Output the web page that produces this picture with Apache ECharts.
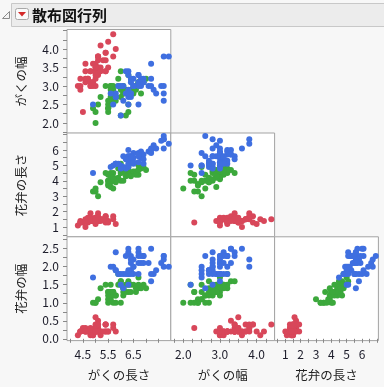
<!DOCTYPE html>
<html><head><meta charset="utf-8">
<style>html,body{margin:0;padding:0;background:#f7f7f7;}#c{width:384px;height:387px;}</style>
<script src="https://cdn.jsdelivr.net/npm/echarts@6/dist/echarts.min.js"></script>
</head><body><div id="c"></div>
<script>
// Variable names (columns of the matrix)
const varNames = ['がくの長さ', 'がくの幅', '花弁の長さ', '花弁の幅'];
const speciesNames = ['setosa', 'versicolor', 'virginica'];
const speciesColors = ['#d8475a', '#3ca83c', '#3f6fe0'];

const setosaSepalLength = [5.1,4.9,4.7,4.6,5.0,5.4,4.6,5.0,4.4,4.9,5.4,4.8,4.8,4.3,5.8,5.7,5.4,5.1,5.7,5.1,5.4,5.1,4.6,5.1,4.8,5.0,5.0,5.2,5.2,4.7,4.8,5.4,5.2,5.5,4.9,5.0,5.5,4.9,4.4,5.1,5.0,4.5,4.4,5.0,5.1,4.8,5.1,4.6,5.3,5.0];
const setosaSepalWidth = [3.5,3.0,3.2,3.1,3.6,3.9,3.4,3.4,2.9,3.1,3.7,3.4,3.0,3.0,4.0,4.4,3.9,3.5,3.8,3.8,3.4,3.7,3.6,3.3,3.4,3.0,3.4,3.5,3.4,3.2,3.1,3.4,4.1,4.2,3.1,3.2,3.5,3.6,3.0,3.4,3.5,2.3,3.2,3.5,3.8,3.0,3.8,3.2,3.7,3.3];
const setosaPetalLength = [1.4,1.4,1.3,1.5,1.4,1.7,1.4,1.5,1.4,1.5,1.5,1.6,1.4,1.1,1.2,1.5,1.3,1.4,1.7,1.5,1.7,1.5,1.0,1.7,1.9,1.6,1.6,1.5,1.4,1.6,1.6,1.5,1.5,1.4,1.5,1.2,1.3,1.4,1.3,1.5,1.3,1.3,1.3,1.6,1.9,1.4,1.6,1.4,1.5,1.4];
const setosaPetalWidth = [0.2,0.2,0.2,0.2,0.2,0.4,0.3,0.2,0.2,0.1,0.2,0.2,0.1,0.1,0.2,0.4,0.4,0.3,0.3,0.3,0.2,0.4,0.2,0.5,0.2,0.2,0.4,0.2,0.2,0.2,0.2,0.4,0.1,0.2,0.2,0.2,0.2,0.1,0.2,0.2,0.3,0.3,0.2,0.6,0.4,0.3,0.2,0.2,0.2,0.2];

const versicolorSepalLength = [7.0,6.4,6.9,5.5,6.5,5.7,6.3,4.9,6.6,5.2,5.0,5.9,6.0,6.1,5.6,6.7,5.6,5.8,6.2,5.6,5.9,6.1,6.3,6.1,6.4,6.6,6.8,6.7,6.0,5.7,5.5,5.5,5.8,6.0,5.4,6.0,6.7,6.3,5.6,5.5,5.5,6.1,5.8,5.0,5.6,5.7,5.7,6.2,5.1,5.7];
const versicolorSepalWidth = [3.2,3.2,3.1,2.3,2.8,2.8,3.3,2.4,2.9,2.7,2.0,3.0,2.2,2.9,2.9,3.1,3.0,2.7,2.2,2.5,3.2,2.8,2.5,2.8,2.9,3.0,2.8,3.0,2.9,2.6,2.4,2.4,2.7,2.7,3.0,3.4,3.1,2.3,3.0,2.5,2.6,3.0,2.6,2.3,2.7,3.0,2.9,2.9,2.5,2.8];
const versicolorPetalLength = [4.7,4.5,4.9,4.0,4.6,4.5,4.7,3.3,4.6,3.9,3.5,4.2,4.0,4.7,3.6,4.4,4.5,4.1,4.5,3.9,4.8,4.0,4.9,4.7,4.3,4.4,4.8,5.0,4.5,3.5,3.8,3.7,3.9,5.1,4.5,4.5,4.7,4.4,4.1,4.0,4.4,4.6,4.0,3.3,4.2,4.2,4.2,4.3,3.0,4.1];
const versicolorPetalWidth = [1.4,1.5,1.5,1.3,1.5,1.3,1.6,1.0,1.3,1.4,1.0,1.5,1.0,1.4,1.3,1.4,1.5,1.0,1.5,1.1,1.8,1.3,1.5,1.2,1.3,1.4,1.4,1.7,1.5,1.0,1.1,1.0,1.2,1.6,1.5,1.6,1.5,1.3,1.3,1.3,1.2,1.4,1.2,1.0,1.3,1.2,1.3,1.3,1.1,1.3];

const virginicaSepalLength = [6.3,5.8,7.1,6.3,6.5,7.6,4.9,7.3,6.7,7.2,6.5,6.4,6.8,5.7,5.8,6.4,6.5,7.7,7.7,6.0,6.9,5.6,7.7,6.3,6.7,7.2,6.2,6.1,6.4,7.2,7.4,7.9,6.4,6.3,6.1,7.7,6.3,6.4,6.0,6.9,6.7,6.9,5.8,6.8,6.7,6.7,6.3,6.5,6.2,5.9];
const virginicaSepalWidth = [3.3,2.7,3.0,2.9,3.0,3.0,2.5,2.9,2.5,3.6,3.2,2.7,3.0,2.5,2.8,3.2,3.0,3.8,2.6,2.2,3.2,2.8,2.8,2.7,3.3,3.2,2.8,3.0,2.8,3.0,2.8,3.8,2.8,2.8,2.6,3.0,3.4,3.1,3.0,3.1,3.1,3.1,2.7,3.2,3.3,3.0,2.5,3.0,3.4,3.0];
const virginicaPetalLength = [6.0,5.1,5.9,5.6,5.8,6.6,4.5,6.3,5.8,6.1,5.1,5.3,5.5,5.0,5.1,5.3,5.5,6.7,6.9,5.0,5.7,4.9,6.7,4.9,5.7,6.0,4.8,4.9,5.6,5.8,6.1,6.4,5.6,5.1,5.6,6.1,5.6,5.5,4.8,5.4,5.6,5.1,5.1,5.9,5.7,5.2,5.0,5.2,5.4,5.1];
const virginicaPetalWidth = [2.5,1.9,2.1,1.8,2.2,2.1,1.7,1.8,1.8,2.5,2.0,1.9,2.1,2.0,2.4,2.3,1.8,2.2,2.3,1.5,2.3,2.0,2.0,1.8,2.1,1.8,1.8,1.8,2.1,1.6,1.9,2.0,2.2,1.5,1.4,2.3,2.4,1.8,1.8,2.1,2.4,2.3,1.9,2.3,2.5,2.3,1.9,2.0,2.3,1.8];

// Tick values (all ticks) and labelled ticks for each variable
const sepalLengthTicks = [4.0,4.5,5.0,5.5,6.0,6.5,7.0,7.5];
const sepalLengthLabels = [4.5,5.5,6.5];
const sepalWidthTicks = [1.75,2.0,2.25,2.5,2.75,3.0,3.25,3.5,3.75,4.0,4.25];
const sepalWidthXLabels = [2.0,3.0,4.0];
const sepalWidthYTicks = [1.75,2.0,2.25,2.5,2.75,3.0,3.25,3.5,3.75,4.0,4.25,4.5];
const sepalWidthYLabels = [2.0,2.5,3.0,3.5,4.0];
const petalLengthTicks = [0.5,1,1.5,2,2.5,3,3.5,4,4.5,5,5.5,6,6.5,7];
const petalLengthLabels = [1,2,3,4,5,6];
const petalWidthTicks = [0,0.25,0.5,0.75,1,1.25,1.5,1.75,2,2.25,2.5,2.75];
const petalWidthLabels = [0.0,0.5,1.0,1.5,2.0,2.5];

const bySpecies = [
  [setosaSepalLength, setosaSepalWidth, setosaPetalLength, setosaPetalWidth],
  [versicolorSepalLength, versicolorSepalWidth, versicolorPetalLength, versicolorPetalWidth],
  [virginicaSepalLength, virginicaSepalWidth, virginicaPetalLength, virginicaPetalWidth]
];

// Layout
const colLeft = [67, 170.8, 274.6];
const rowTop = [29.5, 133, 236.8];
const cellW = 103.8, cellH = 103.8;

// axis configs per column (x) and per row (y)
const colAxes = [
  {min: 3.87, max: 7.98, ticks: sepalLengthTicks, labels: sepalLengthLabels, dec: 1},
  {min: 1.66, max: 4.49, ticks: sepalWidthTicks, labels: sepalWidthXLabels, dec: 1},
  {min: 0.3, max: 7.07, ticks: petalLengthTicks, labels: petalLengthLabels, dec: 0}
];
const rowAxes = [
  {min: 1.72, max: 4.53, ticks: sepalWidthYTicks, labels: sepalWidthYLabels, dec: 1},
  {min: 0.37, max: 7.1, ticks: petalLengthTicks, labels: petalLengthLabels, dec: 0},
  {min: -0.05, max: 2.83, ticks: petalWidthTicks, labels: petalWidthLabels, dec: 1}
];

const FONT = "'Noto Sans CJK JP', 'Noto Sans', sans-serif";
const grids = [], xAxes = [], yAxes = [], series = [];
let k = 0;
for (let r = 0; r < 3; r++) {
  for (let c = 0; c <= r; c++) {
    grids.push({left: colLeft[c], top: rowTop[r], width: cellW, height: cellH,
      show: true, backgroundColor: '#ffffff', borderColor: '#a3a3a3', borderWidth: 1});
    const ca = colAxes[c], ra = rowAxes[r];
    const showX = (r === 2), showY = (c === 0);
    xAxes.push({
      type: 'value', gridIndex: k, min: ca.min, max: ca.max,
      axisLine: {show: false}, splitLine: {show: false},
      axisTick: {show: showX, customValues: ca.ticks, length: 4, lineStyle: {color: '#888'}},
      axisLabel: {show: showX, customValues: ca.labels, margin: 8, fontSize: 12, color: '#1c1c2a',
        fontFamily: FONT, formatter: (v) => Number(v).toFixed(ca.dec)},
      name: showX ? varNames[c] : '', nameLocation: 'middle', nameGap: 28,
      nameTextStyle: {fontSize: 12.5, color: '#222', fontFamily: FONT}
    });
    yAxes.push({
      type: 'value', gridIndex: k, min: ra.min, max: ra.max,
      axisLine: {show: false}, splitLine: {show: false},
      axisTick: {show: showY, customValues: ra.ticks, length: 4, lineStyle: {color: '#888'}},
      axisLabel: {show: showY, customValues: ra.labels, margin: 8, fontSize: 12, color: '#1c1c2a',
        fontFamily: FONT, formatter: (v) => Number(v).toFixed(ra.dec)},
      name: showY ? varNames[r + 1] : '', nameLocation: 'middle', nameGap: 39, nameRotate: 90,
      nameTextStyle: {fontSize: 12.5, color: '#222', fontFamily: FONT}
    });
    for (let s = 0; s < 3; s++) {
      const xs = bySpecies[s][c], ys = bySpecies[s][r + 1];
      series.push({
        type: 'scatter', name: speciesNames[s], xAxisIndex: k, yAxisIndex: k,
        data: xs.map((x, i) => [x, ys[i]]), symbolSize: 6, silent: true,
        itemStyle: {color: speciesColors[s], opacity: 1}, animation: false
      });
    }
    k++;
  }
}

const chart = echarts.init(document.getElementById('c'), null, {renderer: 'canvas'});
chart.setOption({
  backgroundColor: '#f7f7f7',
  animation: false,
  grid: grids, xAxis: xAxes, yAxis: yAxes, series: series,
  graphic: [
    {type: 'rect', shape: {x: 11.5, y: 3.5, width: 380, height: 23}, style: {fill: '#ececec', stroke: '#c8c8c8', lineWidth: 1}},
    {type: 'polygon', shape: {points: [[2.5, 18.5], [9.5, 11.5], [9.5, 18.5]]}, style: {fill: '#f4f4f4', stroke: '#8a8a8a', lineWidth: 1}},
    {type: 'rect', shape: {x: 15.5, y: 8.5, width: 13, height: 11, r: 2}, style: {fill: '#fafafa', stroke: '#a8a8a8', lineWidth: 1}},
    {type: 'polygon', shape: {points: [[18, 12], [26, 12], [22, 16.5]]}, style: {fill: '#d42a2a'}},
    {type: 'text', x: 32, y: 15, style: {text: '散布図行列', font: "bold 15px 'Noto Sans CJK JP'", fill: '#111', verticalAlign: 'middle', align: 'left'}}
  ]
});
</script></body></html>
